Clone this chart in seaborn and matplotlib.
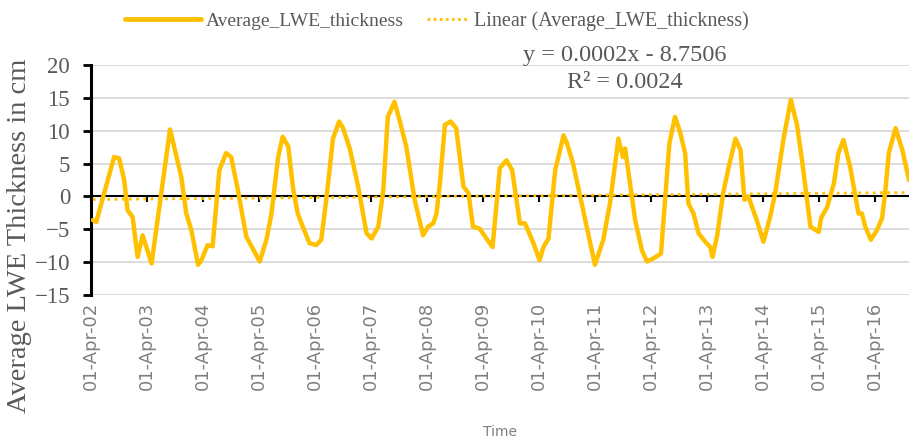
import numpy as np
import pandas as pd
import matplotlib
matplotlib.use("Agg")
import matplotlib.pyplot as plt
import matplotlib.dates as mdates
from matplotlib.lines import Line2D
import seaborn as sns

# Time of each observation as a decimal year
decimal_year = [
    2002.28, 2002.34, 2002.66, 2002.75, 2002.84, 2002.90, 2002.99, 2003.08, 2003.17, 2003.33,
    2003.66, 2003.86, 2003.95, 2004.04, 2004.16, 2004.22, 2004.33, 2004.42, 2004.54, 2004.66,
    2004.75, 2004.87, 2005.02, 2005.26, 2005.38, 2005.47, 2005.59, 2005.67, 2005.77, 2005.86,
    2005.94, 2006.03, 2006.15, 2006.27, 2006.36, 2006.45, 2006.57, 2006.68, 2006.75, 2006.87,
    2007.02, 2007.17, 2007.26, 2007.38, 2007.47, 2007.55, 2007.67, 2007.76, 2007.88, 2008.03,
    2008.18, 2008.27, 2008.36, 2008.42, 2008.48, 2008.57, 2008.67, 2008.77, 2008.90, 2008.99,
    2009.07, 2009.19, 2009.31, 2009.42, 2009.55, 2009.67, 2009.77, 2009.91, 2010.00, 2010.15,
    2010.26, 2010.33, 2010.42, 2010.54, 2010.69, 2010.75, 2010.86, 2011.04, 2011.25, 2011.40,
    2011.52, 2011.67, 2011.75, 2011.79, 2011.97, 2012.09, 2012.18, 2012.30, 2012.43, 2012.58,
    2012.68, 2012.77, 2012.86, 2012.92, 2013.01, 2013.10, 2013.22, 2013.31, 2013.35, 2013.43,
    2013.54, 2013.64, 2013.76, 2013.85, 2013.92, 2013.99, 2014.14, 2014.26, 2014.38, 2014.47,
    2014.62, 2014.75, 2014.86, 2014.95, 2015.10, 2015.25, 2015.29, 2015.40, 2015.52, 2015.60,
    2015.69, 2015.81, 2015.96, 2016.02, 2016.08, 2016.18, 2016.29, 2016.38, 2016.44, 2016.50,
    2016.62, 2016.74, 2016.86,
]

# Average liquid water equivalent thickness (cm)
lwe_cm = [
    -3.6, -3.9, 6.0, 5.8, 2.5, -2.1, -3.1, -9.2, -5.9, -10.2,
    10.2, 3.0, -2.6, -5.1, -10.4, -9.7, -7.4, -7.6, 4.0, 6.6,
    6.0, 1.0, -6.1, -9.9, -6.6, -2.6, 6.0, 9.1, 7.6, 1.0,
    -2.6, -4.6, -7.1, -7.4, -6.6, -0.5, 8.8, 11.4, 10.4, 7.3,
    1.5, -5.6, -6.4, -4.6, 1.0, 12.1, 14.4, 11.6, 7.6, -0.5,
    -5.9, -4.6, -4.1, -2.6, 2.0, 10.9, 11.4, 10.4, 1.5, 0.5,
    -4.6, -4.9, -6.4, -7.7, 4.3, 5.5, 4.0, -4.1, -4.1, -7.1,
    -9.7, -7.7, -6.4, 4.0, 9.3, 8.1, 5.0, -2.1, -10.4, -6.6,
    -1.0, 8.8, 6.0, 7.3, -3.6, -8.2, -9.9, -9.4, -8.7, 8.1,
    12.1, 9.8, 6.6, -1.1, -2.6, -5.6, -6.9, -7.7, -9.2, -6.1,
    0.5, 4.5, 8.8, 7.1, -0.5, 0.0, -3.6, -6.9, -3.1, 0.5,
    8.8, 14.7, 10.9, 5.5, -4.6, -5.4, -3.3, -1.6, 2.0, 6.6,
    8.6, 4.5, -2.6, -2.6, -4.6, -6.6, -5.1, -3.3, 1.0, 6.6,
    10.4, 7.1, 2.5,
]

tick_years = [2002, 2003, 2004, 2005, 2006, 2007, 2008, 2009,
              2010, 2011, 2012, 2013, 2014, 2015, 2016]
tick_labels = ["01-Apr-02", "01-Apr-03", "01-Apr-04", "01-Apr-05", "01-Apr-06",
               "01-Apr-07", "01-Apr-08", "01-Apr-09", "01-Apr-10", "01-Apr-11",
               "01-Apr-12", "01-Apr-13", "01-Apr-14", "01-Apr-15", "01-Apr-16"]

series_name = "Average_LWE_thickness"
trend_name = "Linear (Average_LWE_thickness)"
trend_slope = 0.0002          # cm per day, as given in the equation label
equation_text = "y = 0.0002x - 8.7506"
r2_text = "R² = 0.0024"


def to_timestamp(y):
    year = int(y)
    start = pd.Timestamp(year, 1, 1)
    end = pd.Timestamp(year + 1, 1, 1)
    return start + (end - start) * (y - year)


df = pd.DataFrame({"time": [to_timestamp(v) for v in decimal_year], "lwe": lwe_cm})

# linear trend in spreadsheet serial day numbers: slope from the equation,
# offset fitted to the series on a daily grid so the whole record counts equally
serial = ((df["time"] - pd.Timestamp("1899-12-30")).dt.total_seconds() / 86400.0).to_numpy()
days = np.arange(serial[0], serial[-1] + 1.0)
daily = np.interp(days, serial, df["lwe"])
offset = np.mean(daily - trend_slope * days)
df["trend"] = trend_slope * serial + offset

sns.set_theme(style="white")
plt.rcParams["font.family"] = ["Liberation Serif", "DejaVu Serif"]

gold = "#FFC000"
grey = "#595959"
light_grey = "#7f7f7f"

fig = plt.figure(figsize=(9.09, 4.40), dpi=100)
ax = fig.add_axes([0.1001, 0.3295, 0.8999, 0.5227])

sns.lineplot(data=df, x="time", y="trend", ax=ax, color=gold, linewidth=2.0,
             linestyle=(0, (1, 1.6)), estimator=None, sort=False, zorder=3)
sns.lineplot(data=df, x="time", y="lwe", ax=ax, color=gold, linewidth=3.2,
             estimator=None, sort=False, zorder=4)

ax.set_xlim(df["time"].min() - pd.Timedelta(days=8), df["time"].max())
ax.set_ylim(-15, 20)
ax.set_yticks(np.arange(-15, 21, 5))
ax.set_xlabel("")
ax.set_ylabel("")

ax.yaxis.grid(True, color="#d9d9d9", linewidth=1.3)
ax.xaxis.grid(False)
ax.set_axisbelow(True)

for side in ("top", "right"):
    ax.spines[side].set_visible(False)
ax.spines["left"].set_color("black")
ax.spines["left"].set_linewidth(2.2)
ax.spines["bottom"].set_position(("data", 0))
ax.spines["bottom"].set_color("black")
ax.spines["bottom"].set_linewidth(1.5)
ax.spines["bottom"].set_zorder(2)

tick_pos = [mdates.date2num(pd.Timestamp(y, 4, 1)) for y in tick_years]
ax.set_xticks(tick_pos)
ax.tick_params(axis="x", bottom=True, direction="out", length=4, width=1.5,
               color="black", labelbottom=False)
ax.tick_params(axis="y", left=True, direction="out", length=6, width=2,
               color="black", labelsize=16.5, labelcolor=grey, pad=9)

# date labels along the bottom of the plotting area
sec = ax.secondary_xaxis(0.0)
sec.set_xticks(tick_pos, labels=tick_labels)
sec.tick_params(axis="x", length=0, pad=5, labelrotation=90, labelsize=13,
                labelcolor=light_grey)
for lbl in sec.get_xticklabels():
    lbl.set_fontfamily("DejaVu Sans")
sec.spines["bottom"].set_visible(False)
sec.set_xlabel("Time", fontfamily="DejaVu Sans", fontsize=10, color=light_grey,
               labelpad=25)

fig.text(0.021, 0.463, "Average LWE Thickness in cm", rotation=90,
         ha="center", va="center", fontsize=20.5, color=grey)

# legend: two entries with differently sized keys
leg1 = fig.legend([Line2D([], [], color=gold, linewidth=3.5)], [series_name],
                  loc="center left", bbox_to_anchor=(125 / 909, 0.952),
                  frameon=False, fontsize=14, handlelength=3.9,
                  handletextpad=0.25, borderpad=0, borderaxespad=0,
                  labelcolor=grey)
leg2 = fig.legend([Line2D([], [], color=gold, linewidth=2.0, linestyle=(0, (1, 1.2)))],
                  [trend_name], loc="center left",
                  bbox_to_anchor=(427 / 909, 0.952), frameon=False, fontsize=14.5,
                  handlelength=2.1, handletextpad=0.25, borderpad=0,
                  borderaxespad=0, labelcolor=grey)

fig.text(625 / 909, 1 - 56 / 440, equation_text, ha="center", va="center",
         fontsize=17.5, color=grey)
fig.text(625 / 909, 1 - 83 / 440, r2_text, ha="center", va="center",
         fontsize=17.5, color=grey)

fig.savefig("out.png", dpi=100, facecolor="white")
